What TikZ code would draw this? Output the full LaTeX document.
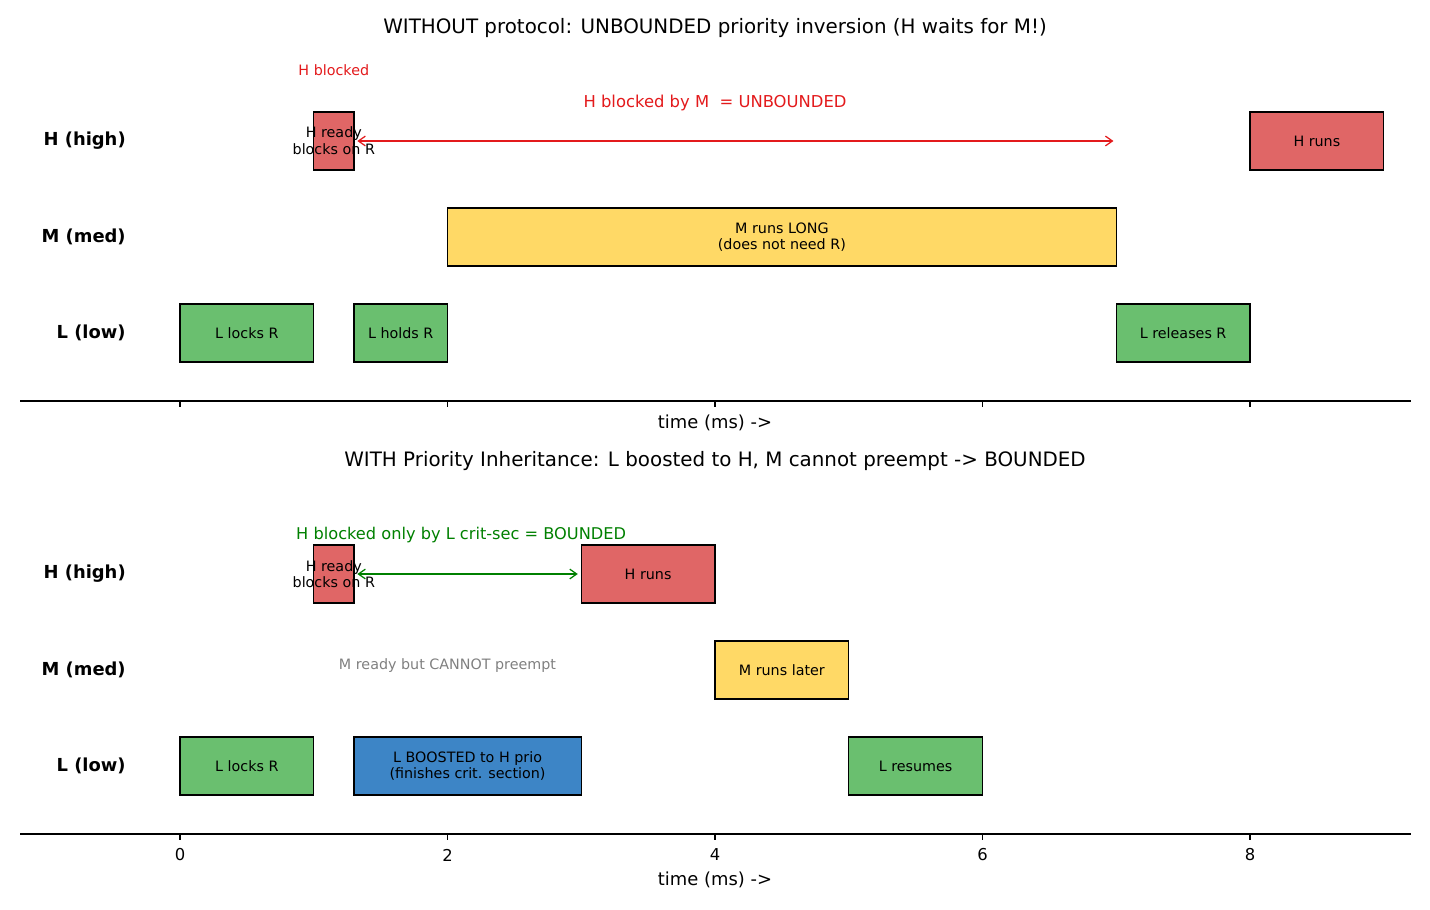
\documentclass[tikz,border=0pt]{standalone}
\usepackage{fontspec}
\setmainfont{DejaVu Sans}
\usepackage{tikz}
\usetikzlibrary{arrows.meta}
\definecolor{hred}{HTML}{E06666}
\definecolor{myellow}{HTML}{FFD966}
\definecolor{lgreen}{HTML}{6ABF6F}
\definecolor{lblue}{HTML}{3D85C6}
\definecolor{pltred}{HTML}{E31A1C}
\definecolor{pltgreen}{HTML}{008000}
\newcommand{\tunit}{96.3pt}

\begin{document}
\begin{tikzpicture}[
  x=96.3pt, y=-0.72pt,
  task/.style={draw=black, line width=1pt, minimum height=41.76pt, inner sep=0pt,
               align=center, font=\fontsize{10.3}{12}\selectfont},
  tasktext/.style={align=center, inner sep=0pt, font=\fontsize{10.3}{12}\selectfont},
  rowlab/.style={anchor=east, inner sep=0pt, font=\fontsize{12.9}{14}\selectfont\bfseries},
  ttl/.style={font=\fontsize{14.3}{16}\selectfont},
  xlab/.style={font=\fontsize{12.9}{14}\selectfont},
  ticklab/.style={font=\fontsize{11.8}{14}\selectfont},
  arr/.style={{Straight Barb[length=5pt,width=7pt]}-{Straight Barb[length=5pt,width=7pt]}, line width=0.9pt}
]
\useasboundingbox (-1.3458,0) rectangle (9.3458,910);

% ---- top panel: no protocol
\node[ttl] (t1) at (4,28) {WITHOUT protocol: UNBOUNDED priority inversion (H waits for M!)};
\node[rowlab] (h1lab) at (-0.404,141) {H (high)};
\node[rowlab] (m1lab) at (-0.404,237) {M (med)};
\node[rowlab] (l1lab) at (-0.404,333) {L (low)};

\node[task, fill=hred, minimum width={0.3*\tunit}] (hready1) at (1.15,141) {};
\node[tasktext] (hready1t) at (hready1) {H ready\\blocks on R};
\node[task, fill=hred, minimum width={1*\tunit}] (hruns1) at (8.5,141) {H runs};
\node[task, fill=myellow, minimum width={5*\tunit}] (mlong) at (4.5,237) {M runs LONG\\(does not need R)};
\node[task, fill=lgreen, minimum width={1*\tunit}] (llock1) at (0.5,333) {L locks R};
\node[task, fill=lgreen, minimum width={0.7*\tunit}] (lhold) at (1.65,333) {L holds R};
\node[task, fill=lgreen, minimum width={1*\tunit}] (lrel) at (7.5,333) {L releases R};

\node[text=pltred, font=\fontsize{10.3}{12}\selectfont] (hblk) at (1.15,70) {H blocked};
\node[text=pltred, font=\fontsize{11.8}{14}\selectfont] (unb) at (4,103) {H blocked by M\ \ = UNBOUNDED};
\coordinate (ub) at (7,141);
\draw[arr, pltred] ([xshift=2pt]hready1.east) -- ([xshift=-2pt]ub);

\draw[line width=0.9pt] (-1.196,401) coordinate (ax1l) -- (9.204,401) coordinate (ax1r);
\foreach \t in {0,2,...,8}
  \draw[line width=0.9pt] (\t,401) -- (\t,407);
\node[xlab] (xl1) at (4,423) {time (ms) ->};

% ---- bottom panel: priority inheritance
\node[ttl] (t2) at (4,461) {WITH Priority Inheritance: L boosted to H, M cannot preempt -> BOUNDED};
\node[rowlab] (h2lab) at (-0.404,574) {H (high)};
\node[rowlab] (m2lab) at (-0.404,670) {M (med)};
\node[rowlab] (l2lab) at (-0.404,766) {L (low)};

\node[task, fill=hred, minimum width={0.3*\tunit}] (hready2) at (1.15,574) {};
\node[tasktext] (hready2t) at (hready2) {H ready\\blocks on R};
\node[task, fill=hred, minimum width={1*\tunit}] (hruns2) at (3.5,574) {H runs};
\node[task, fill=myellow, minimum width={1*\tunit}] (mlater) at (4.5,670) {M runs later};
\node[task, fill=lgreen, minimum width={1*\tunit}] (llock2) at (0.5,766) {L locks R};
\node[task, fill=lblue, minimum width={1.7*\tunit}] (lboost) at (2.15,766) {L BOOSTED to H prio\\(finishes crit. section)};
\node[task, fill=lgreen, minimum width={1*\tunit}] (lres) at (5.5,766) {L resumes};

\node[text=pltgreen, font=\fontsize{11.66}{14}\selectfont, anchor=west, inner sep=0pt] (bnd) at (0.867,535) {H blocked only by L crit-sec = BOUNDED};
\node[text=gray, font=\fontsize{10.3}{12}\selectfont] (mcant) at (2,666) {M ready but CANNOT preempt};
\draw[arr, pltgreen] ([xshift=2pt]hready2.east) -- ([xshift=-2pt]hruns2.west);

\draw[line width=0.9pt] (-1.196,834) coordinate (ax2l) -- (9.204,834) coordinate (ax2r);
\foreach \t in {0,2,...,8} {
  \draw[line width=0.9pt] (\t,834) -- (\t,840);
  \node[ticklab] (tk\t) at (\t,855) {\t};
}
\node[xlab] (xl2) at (4,880) {time (ms) ->};
\end{tikzpicture}
\end{document}
